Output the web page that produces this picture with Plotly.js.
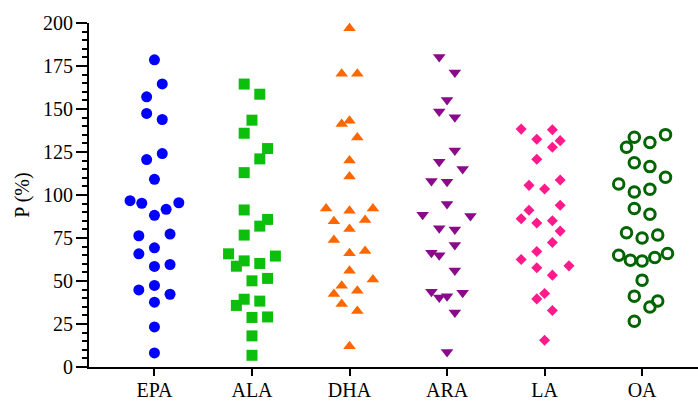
<!DOCTYPE html>
<html><head><meta charset="utf-8">
<script src="https://cdn.plot.ly/plotly-3.0.1.min.js"></script>
<style>html,body{margin:0;padding:0;background:#fff}#chart{width:698px;height:401px}</style>
</head><body><div id="chart"></div>
<script>
const categories = ['EPA','ALA','DHA','ARA','LA','OA'];

const epaValues = [178.6,164.6,157.1,147.4,143.9,120.6,124.1,109.1,96.7,95.2,88.2,91.7,95.5,76.3,77.3,65.8,69.3,58.5,59.6,44.8,47.4,42.3,37.7,23.3,8.2];
const epaJitter = [0,0.08,-0.08,-0.08,0.08,-0.08,0.08,0,-0.25,-0.13,0,0.12,0.25,-0.16,0.16,-0.16,0,0,0.16,-0.16,0,0.16,0,0,0];

const alaValues = [164.5,158.6,143.5,135.9,127,121,113,91.3,85.8,81.9,76.7,65.8,58.6,61.7,60.2,64.5,50.1,51.5,35.8,39.4,38.3,28.8,29.1,18.1,6.8];
const alaJitter = [-0.08,0.08,0,-0.08,0.16,0.08,-0.08,-0.08,0.16,0.08,-0.08,-0.24,-0.16,-0.08,0.08,0.24,0,0.16,-0.16,-0.08,0.08,0,0.16,0,0];

const dhaValues = [197,170.5,170.5,141.3,143.1,133.4,120,110.7,92.2,90.9,92.2,84.7,85.4,80.2,73.8,66.2,67.4,55.9,50.9,47.2,42.5,44.3,36.7,32.6,12.1];
const dhaJitter = [0,-0.08,0.08,-0.08,0,0.08,0,0,-0.24,0,0.24,-0.16,0.16,0,-0.16,0,0.16,0,0.24,-0.08,-0.16,0.08,-0.08,0.08,0];

const araValues = [180.2,171.2,155.3,148.5,145.2,125.8,119.4,115.1,108.2,107.7,94.8,88.5,87.8,80.6,80,70.9,66.4,64.9,56.1,43.7,40.4,41.2,43.1,31.7,8.7];
const araJitter = [-0.08,0.08,0,-0.08,0.08,0.08,-0.08,0.16,-0.16,0,0,-0.25,0.24,-0.08,0.08,0.08,-0.16,-0.08,0.08,-0.16,-0.08,0,0.16,0.08,0];

const laValues = [138.3,137.9,132.4,131.6,127.8,120.8,105.6,108.7,103.5,94,91.1,86.2,83.7,85,79,72.4,67.2,62.5,58.8,57.7,53.4,42.7,39.6,32.8,15.5];
const laJitter = [-0.24,0.08,-0.08,0.16,0.08,-0.08,-0.16,0.16,0,0.16,-0.16,-0.24,-0.08,0.08,0.16,0.08,-0.08,-0.24,0.25,-0.08,0.08,0,-0.08,0.08,0];

const oaValues = [133.6,135.1,127.8,130.5,118.8,116.5,106.4,110.3,101.7,103.3,92.2,88.8,78,76.7,75,65,62.1,61.6,63.7,66,50.5,41.2,38.4,34.9,26.6];
const oaJitter = [-0.08,0.24,-0.16,0.08,-0.08,0.08,-0.24,0.24,-0.08,0.08,-0.08,0.08,-0.16,0.16,0,-0.24,-0.12,0,0.13,0.26,0,-0.08,0.16,0.08,-0.08];

const seriesValues = [epaValues, alaValues, dhaValues, araValues, laValues, oaValues];
const seriesJitter = [epaJitter, alaJitter, dhaJitter, araJitter, laJitter, oaJitter];

const markerStyles = [
  {symbol:'circle', size:11, color:'#0000FF', line:{width:0}},
  {symbol:'square', size:11, color:'#0CBF0C', line:{width:0}},
  {symbol:'triangle-up', size:11, color:'#FF6600', line:{width:0}},
  {symbol:'triangle-down', size:11, color:'#8B0A8B', line:{width:0}},
  {symbol:'diamond', size:8.5, color:'#FF1A8C', line:{width:0}},
  {symbol:'circle-open', size:10.5, color:'#006400', line:{width:3, color:'#006400'}}
];

const traces = categories.map((c, i) => ({
  type:'scatter', mode:'markers', name:c,
  x: seriesValues[i].map((v, k) => i + seriesJitter[i][k]),
  y: seriesValues[i],
  marker: markerStyles[i],
  hoverinfo:'y'
}));

const serif = 'Liberation Serif, Times New Roman, serif';
const layout = {
  width:698, height:401,
  margin:{l:89, r:0, t:23, b:34},
  showlegend:false,
  paper_bgcolor:'#fff', plot_bgcolor:'#fff',
  font:{family:serif, size:20, color:'#000'},
  xaxis:{
    range:[-0.671, 5.573],
    tickmode:'array', tickvals:[0,1,2,3,4,5], ticktext:categories,
    ticks:'outside', ticklen:7, tickwidth:2, tickcolor:'#000',
    ticklabelstandoff:-3,
    showline:true, linewidth:2, linecolor:'#000',
    showgrid:false, zeroline:false,
    tickfont:{family:serif, size:20, color:'#000'}
  },
  yaxis:{
    range:[0,200], tickmode:'linear', tick0:0, dtick:25,
    ticks:'outside', ticklen:11, tickwidth:2, tickcolor:'#000',
    ticklabelstandoff:-1,
    minor:{dtick:5, ticks:'outside', ticklen:5, tickwidth:2, tickcolor:'#000', showgrid:false},
    showline:true, linewidth:2, linecolor:'#000',
    showgrid:false, zeroline:false,
    tickfont:{family:serif, size:20, color:'#000'},
    title:{text:'P (%)', font:{family:serif, size:20, color:'#000'}, standoff:8}
  }
};

Plotly.newPlot('chart', traces, layout, {displayModeBar:false, staticPlot:true});
</script>
</body></html>
